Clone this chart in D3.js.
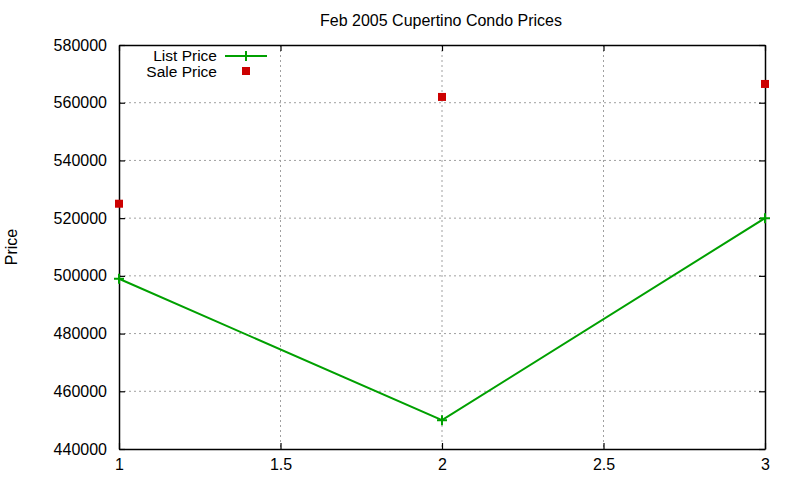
<!DOCTYPE html>
<html>
<head>
<meta charset="utf-8">
<script src="https://cdn.jsdelivr.net/npm/d3@7"></script>
<style>
  body { margin: 0; background: #fff; }
  text { font-family: "Liberation Sans", Arial, sans-serif; fill: #000; }
</style>
</head>
<body>
<div id="chart"></div>
<script>
(() => {
    // data
    let xs = [1, 2, 3];
    let listPrice = [499000, 450000, 520000];
    let salePrice = [525000, 562000, 566500];
    let xTicks = [1, 1.5, 2, 2.5, 3];
    let yTicks = [440000, 460000, 480000, 500000, 520000, 540000, 560000, 580000];

    let w = 800;
    let h = 480;
    let left = 119, right = 765, top = 45, bottom = 449;

    let svg = d3.select("#chart")
        .append("svg")
        .attr("width", w)
        .attr("height", h);

    let x = d3.scaleLinear().domain([1, 3]).range([left, right]);
    let y = d3.scaleLinear().domain([440000, 580000]).range([bottom, top]);

    // grid
    svg.append("g")
        .selectAll("line")
        .data(xTicks.slice(1, -1))
        .enter()
        .append("line")
        .attr("x1", d => x(d)).attr("x2", d => x(d))
        .attr("y1", top).attr("y2", bottom)
        .attr("stroke", "#a0a0a0")
        .attr("stroke-dasharray", "2,3");

    svg.append("g")
        .selectAll("line")
        .data(yTicks.slice(1, -1))
        .enter()
        .append("line")
        .attr("x1", left).attr("x2", right)
        .attr("y1", d => y(d)).attr("y2", d => y(d))
        .attr("stroke", "#a0a0a0")
        .attr("stroke-dasharray", "2,3");

    // axes, ticks pointing inward on all four sides
    let bottomAxis = d3.axisBottom(x).tickValues(xTicks).tickSizeInner(-6).tickSizeOuter(0)
        .tickFormat(d3.format("~g")).tickPadding(10);
    let topAxis = d3.axisTop(x).tickValues(xTicks).tickSizeInner(-6).tickSizeOuter(0).tickFormat("");
    let leftAxis = d3.axisLeft(y).tickValues(yTicks).tickSizeInner(-6).tickSizeOuter(0)
        .tickFormat(d3.format("d")).tickPadding(12);
    let rightAxis = d3.axisRight(y).tickValues(yTicks).tickSizeInner(-6).tickSizeOuter(0).tickFormat("");

    let axes = [
        [bottomAxis, "translate(0," + bottom + ")"],
        [topAxis, "translate(0," + top + ")"],
        [leftAxis, "translate(" + left + ",0)"],
        [rightAxis, "translate(" + right + ",0)"]
    ];
    axes.forEach(a => {
        let g = svg.append("g").attr("transform", a[1]).call(a[0]);
        g.select(".domain").attr("stroke", "#000").attr("stroke-width", 1.5);
        g.selectAll(".tick line").attr("stroke", "#000").attr("stroke-width", 1.2);
        g.selectAll("text").style("font-size", "16px").style("font-family", "Liberation Sans, Arial, sans-serif");
    });

    // list price line
    let pts = xs.map((d, i) => [d, listPrice[i]]);
    svg.append("path")
        .datum(pts)
        .attr("fill", "none")
        .attr("stroke", "#00a000")
        .attr("stroke-width", 2)
        .attr("d", d3.line().x(d => x(d[0])).y(d => y(d[1])));

    let cross = (g, cx, cy) => {
        g.append("path")
            .attr("d", "M" + (cx - 5) + "," + cy + "H" + (cx + 5) + "M" + cx + "," + (cy - 5) + "V" + (cy + 5))
            .attr("stroke", "#00a000")
            .attr("stroke-width", 2);
    };
    pts.forEach(p => cross(svg, x(p[0]), y(p[1])));

    // sale price squares
    svg.selectAll("rect.sale")
        .data(salePrice)
        .enter()
        .append("rect")
        .attr("class", "sale")
        .attr("x", (d, i) => x(xs[i]) - 4)
        .attr("y", d => y(d) - 4)
        .attr("width", 8)
        .attr("height", 8)
        .attr("fill", "#cc0000");

    // legend
    let legend = svg.append("g");
    legend.append("text").attr("x", 217).attr("y", 61).attr("text-anchor", "end")
        .style("font-size", "15.5px").text("List Price");
    legend.append("line").attr("x1", 225).attr("x2", 267).attr("y1", 56).attr("y2", 56)
        .attr("stroke", "#00a000").attr("stroke-width", 2);
    cross(legend, 246, 56);
    legend.append("text").attr("x", 217).attr("y", 77).attr("text-anchor", "end")
        .style("font-size", "15.5px").text("Sale Price");
    legend.append("rect").attr("x", 242).attr("y", 67).attr("width", 8).attr("height", 8)
        .attr("fill", "#cc0000");

    // title & y label
    svg.append("text")
        .attr("x", 441).attr("y", 26)
        .attr("text-anchor", "middle")
        .style("font-size", "16px")
        .text("Feb 2005 Cupertino Condo Prices");

    svg.append("text")
        .attr("transform", "translate(17,247) rotate(-90)")
        .attr("text-anchor", "middle")
        .style("font-size", "16px")
        .text("Price");
})();
</script>
</body>
</html>
